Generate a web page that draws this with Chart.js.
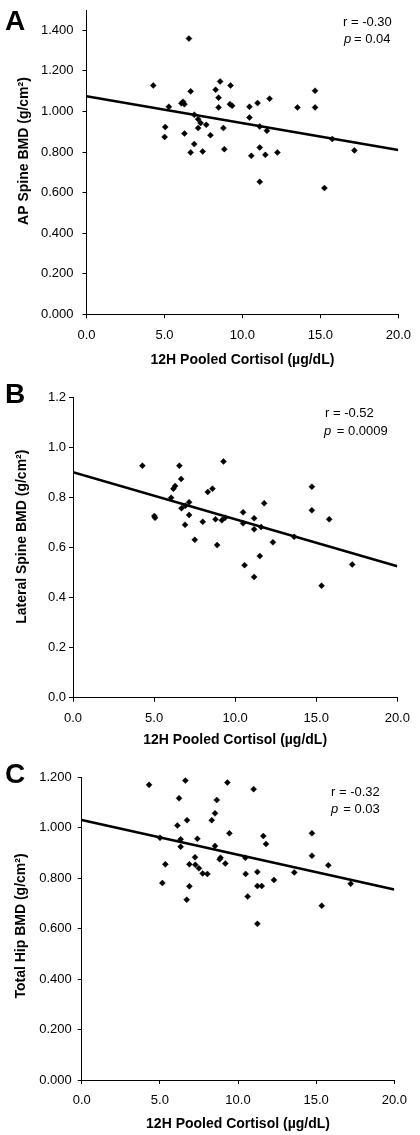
<!DOCTYPE html>
<html>
<head>
<meta charset="utf-8">
<script src="https://cdn.jsdelivr.net/npm/chart.js@4.4.1/dist/chart.umd.min.js"></script>
<style>
  html, body { margin: 0; padding: 0; background: #ffffff; }
  body { width: 420px; height: 1135px; position: relative; overflow: hidden; }
  canvas { position: absolute; left: 0; }
</style>
</head>
<body>
<canvas id="chartA" width="420" height="378" style="top:0px"></canvas>
<canvas id="chartB" width="420" height="378" style="top:378px"></canvas>
<canvas id="chartC" width="420" height="379" style="top:756px"></canvas>
<script>
// ---------- DATA ----------
// Panel A: AP Spine BMD vs 12H pooled cortisol
const aCortisol = [6.57, 4.28, 8.57, 9.24, 6.68, 8.28, 8.47, 14.66, 11.74, 10.97, 10.45, 9.20, 9.34, 8.47, 6.09, 6.28, 6.19, 5.28, 13.53, 14.66, 10.45, 6.91, 7.16, 7.32, 7.68, 7.16, 5.05, 8.78, 11.11, 11.57, 5.01, 6.28, 7.95, 15.76, 6.91, 11.11, 8.84, 6.68, 7.45, 12.24, 10.57, 11.47, 17.18, 11.11, 15.26];
const aBMD      = [1.359, 1.128, 1.148, 1.128, 1.099, 1.107, 1.068, 1.102, 1.063, 1.041, 1.023, 1.036, 1.028, 1.020, 1.040, 1.036, 1.048, 1.023, 1.020, 1.020, 0.970, 0.984, 0.962, 0.943, 0.934, 0.918, 0.923, 0.918, 0.926, 0.905, 0.874, 0.891, 0.883, 0.864, 0.839, 0.822, 0.814, 0.798, 0.803, 0.798, 0.781, 0.786, 0.808, 0.653, 0.622];
const aFitX = [0, 20];
const aFitY = [1.075, 0.810];

// Panel B: Lateral Spine BMD
const bCortisol = [4.28, 6.56, 9.28, 6.67, 6.30, 6.19, 8.60, 8.31, 14.73, 6.05, 7.16, 6.93, 6.69, 11.79, 14.73, 5.02, 5.06, 7.16, 10.49, 11.17, 15.80, 8.79, 9.38, 9.18, 8.00, 6.91, 10.49, 11.60, 11.17, 13.64, 12.33, 7.51, 8.89, 11.52, 10.58, 17.22, 11.17, 15.33];
const bBMD      = [0.926, 0.926, 0.943, 0.873, 0.845, 0.834, 0.834, 0.821, 0.842, 0.798, 0.780, 0.766, 0.756, 0.776, 0.748, 0.725, 0.718, 0.729, 0.740, 0.716, 0.712, 0.712, 0.718, 0.708, 0.702, 0.690, 0.696, 0.681, 0.672, 0.642, 0.620, 0.630, 0.609, 0.565, 0.529, 0.532, 0.482, 0.447];
const bFitX = [0, 20];
const bFitY = [0.900, 0.525];

// Panel C: Total Hip BMD
const cCortisol = [4.31, 6.63, 9.32, 11.00, 6.23, 8.64, 8.53, 8.32, 6.74, 6.12, 9.45, 14.73, 11.62, 11.79, 5.01, 6.33, 7.40, 6.33, 8.53, 10.47, 14.73, 7.25, 8.83, 8.88, 9.19, 5.35, 6.89, 7.27, 7.50, 7.74, 8.04, 15.78, 11.24, 10.49, 13.60, 12.30, 11.24, 11.52, 17.21, 5.16, 6.89, 10.62, 6.72, 15.36, 11.24];
const cBMD      = [1.170, 1.187, 1.179, 1.153, 1.117, 1.110, 1.057, 1.030, 1.030, 1.009, 0.978, 0.978, 0.967, 0.936, 0.960, 0.954, 0.956, 0.925, 0.928, 0.881, 0.889, 0.883, 0.875, 0.881, 0.858, 0.855, 0.855, 0.853, 0.839, 0.819, 0.817, 0.851, 0.825, 0.817, 0.823, 0.793, 0.769, 0.769, 0.778, 0.781, 0.768, 0.727, 0.715, 0.691, 0.619];
const cFitX = [0, 20];
const cFitY = [1.031, 0.755];

// Tick values and labels
const xTicks = [0, 5, 10, 15, 20];
const aYTicks = [0, 0.2, 0.4, 0.6, 0.8, 1.0, 1.2, 1.4];
const bYTicks = [0, 0.2, 0.4, 0.6, 0.8, 1.0, 1.2];
const cYTicks = [0, 0.2, 0.4, 0.6, 0.8, 1.0, 1.2];
const xTitle = '12H Pooled Cortisol (\u00b5g/dL)';
const yTitles = ['AP Spine BMD (g/cm\u00b2)', 'Lateral Spine BMD (g/cm\u00b2)', 'Total Hip BMD (g/cm\u00b2)'];
const panelLetters = ['A', 'B', 'C'];
const rTexts = ['r = -0.30', 'r = -0.52', 'r = -0.32'];
const pTexts = ['= 0.04', '= 0.0009', '= 0.03'];
const yMaxes = [1.5, 1.2, 1.2];
const yTickDecimals = [3, 1, 3];

// ---------- RENDER ----------
const FONT = '"Liberation Sans", Arial, Helvetica, sans-serif';

function pairs(xs, ys) { return xs.map((x, i) => ({ x: x, y: ys[i] })); }

function makePanel(id, idx, xs, ys, fx, fy, yTicks, L) {
  const annot = {
    id: 'annot' + idx,
    afterDraw(chart) {
      const ctx = chart.ctx;
      ctx.save();
      ctx.fillStyle = '#000';
      ctx.textBaseline = 'alphabetic';
      ctx.textAlign = 'left';
      ctx.font = 'bold 28px ' + FONT;
      ctx.fillText(panelLetters[idx], L.letterX, L.letterY);
      ctx.font = '13px ' + FONT;
      ctx.fillText(rTexts[idx], L.rX, L.rY);
      ctx.font = 'italic 13px ' + FONT;
      ctx.fillText('p', L.pX, L.pY);
      ctx.font = '13px ' + FONT;
      ctx.fillText(pTexts[idx], L.eqX, L.pY);
      // y-axis title (rotated)
      ctx.translate(L.yTitleX, L.yTitleY);
      ctx.rotate(-Math.PI / 2);
      ctx.textAlign = 'center';
      ctx.textBaseline = 'middle';
      ctx.font = 'bold 14px ' + FONT;
      ctx.fillText(yTitles[idx], 0, 0);
      ctx.restore();
    }
  };
  return new Chart(document.getElementById(id), {
    type: 'scatter',
    data: {
      datasets: [
        {
          data: pairs(xs, ys),
          pointStyle: 'rectRot',
          pointRadius: 3,
          pointBackgroundColor: '#000',
          pointBorderColor: '#000',
          pointBorderWidth: 0.5,
          showLine: false
        },
        {
          data: pairs(fx, fy),
          showLine: true,
          borderColor: '#000',
          borderWidth: 2.6,
          pointRadius: 0,
          fill: false
        }
      ]
    },
    options: {
      responsive: false,
      animation: false,
      devicePixelRatio: 1,
      layout: { padding: { top: L.top, right: L.right, left: 0, bottom: 0 } },
      plugins: { legend: { display: false }, tooltip: { enabled: false } },
      scales: {
        x: {
          type: 'linear',
          min: 0, max: 20,
          afterFit(s) { s.height = L.xH; },
          afterBuildTicks(s) { s.ticks = xTicks.map(v => ({ value: v })); },
          ticks: {
            color: '#000',
            padding: L.xPad,
            font: { family: FONT, size: 13 },
            maxRotation: 0,
            autoSkip: false,
            callback: (v) => Number(v).toFixed(1)
          },
          grid: { drawOnChartArea: false, drawTicks: true, tickLength: 4, tickColor: '#000', tickWidth: 1 },
          border: { display: true, color: '#000', width: 1 },
          title: { display: true, text: xTitle, color: '#000', font: { family: FONT, size: 14, weight: 'bold' }, padding: { top: 0, bottom: L.xTitlePad } }
        },
        y: {
          type: 'linear',
          min: 0, max: yMaxes[idx],
          afterFit(s) { s.width = L.yW; s.paddingTop = 0; s.paddingBottom = 0; },
          afterBuildTicks(s) { s.ticks = yTicks.map(v => ({ value: v })); },
          ticks: {
            color: '#000',
            padding: L.yPad,
            autoSkip: false,
            font: { family: FONT, size: 13 },
            callback: (v) => Number(v).toFixed(yTickDecimals[idx])
          },
          grid: { drawOnChartArea: false, drawTicks: true, tickLength: 4, tickColor: '#000', tickWidth: 1 },
          border: { display: true, color: '#000', width: 1 },
          title: { display: false, text: yTitles[idx] }
        }
      }
    },
    plugins: [annot]
  });
}

makePanel('chartA', 0, aCortisol, aBMD, aFitX, aFitY, aYTicks, {
  top: 10, right: 14, yW: 86.5, xH: 63.7, xPad: 9, yPad: 9, xTitlePad: 9.6,
  yTitleX: 24, yTitleY: 151,
  letterX: 5, letterY: 30, rX: 343, rY: 26, pX: 344, pY: 43, eqX: 354
});
makePanel('chartB', 1, bCortisol, bBMD, bFitX, bFitY, bYTicks, {
  top: 19, right: 22.7, yW: 73, xH: 58.3, xPad: 9, yPad: 3, xTitlePad: 7.6,
  yTitleX: 21.7, yTitleY: 158.7,
  letterX: 5, letterY: 25, rX: 325, rY: 39.3, pX: 324, pY: 57, eqX: 336.7
});
makePanel('chartC', 2, cCortisol, cBMD, cFitX, cFitY, cYTicks, {
  top: 21.3, right: 25.7, yW: 81.7, xH: 55, xPad: 9, yPad: 6, xTitlePad: 2,
  yTitleX: 20.7, yTitleY: 170,
  letterX: 5, letterY: 27, rX: 331, rY: 40, pX: 331, pY: 57.3, eqX: 343.3
});
</script>
</body>
</html>
